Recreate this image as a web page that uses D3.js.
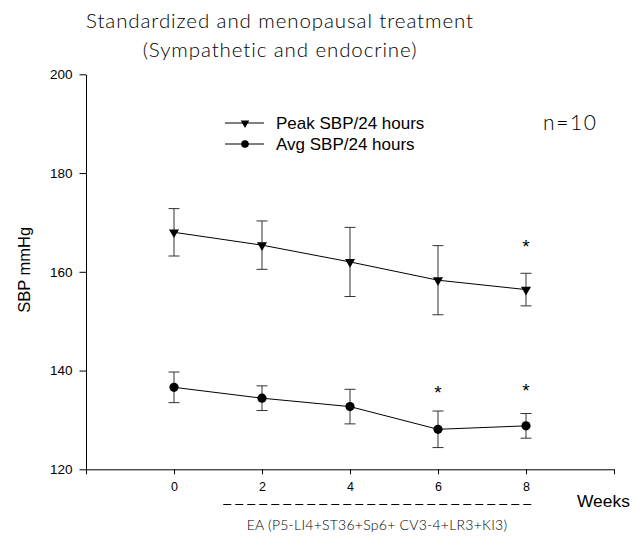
<!DOCTYPE html>
<html>
<head>
<meta charset="utf-8">
<script src="https://cdn.jsdelivr.net/npm/d3@7"></script>
<style>
  html, body { margin: 0; padding: 0; background: #fff; }
  svg { display: block; }
  .gothic { font-family: "Lato", "Open Sans", sans-serif; font-weight: 300; fill: #000; }
  .arial { font-family: "Liberation Sans", Arial, sans-serif; fill: #000; }
</style>
</head>
<body>
<svg id="chart" width="636" height="539"></svg>
<script>
// Weeks of treatment
const weeks = [0, 2, 4, 6, 8];
const xTickLabels = ["0", "2", "4", "6", "8"];
const yTicks = [120, 140, 160, 180, 200];

// Peak SBP over 24 hours (mean and error)
const peakMean = [168.0, 165.4, 162.0, 158.3, 156.4];
const peakErr  = [4.8, 4.9, 7.0, 7.0, 3.3];

// Average SBP over 24 hours (mean and error)
const avgMean = [136.6, 134.4, 132.7, 128.1, 128.8];
const avgErr  = [3.1, 2.5, 3.5, 3.7, 2.5];

// Weeks marked as significant for each series
const peakSig = [8];
const avgSig = [6, 8];

const svg = d3.select("#chart");

const x = d3.scaleLinear().domain([-2, 10]).range([86, 614]);
const y = d3.scaleLinear().domain([120, 200]).range([469.3, 74.3]);

// Title
const title = svg.append("text").attr("class", "gothic")
  .attr("text-anchor", "middle")
  .attr("font-size", 20.5).attr("letter-spacing", 0.9);
title.append("tspan").attr("x", 280).attr("y", 28).text("Standardized and menopausal treatment");
title.append("tspan").attr("x", 280).attr("y", 57).text("(Sympathetic and endocrine)");

// Y axis
const yAxis = d3.axisLeft(y).tickValues(yTicks).tickSize(6.5).tickPadding(7).tickSizeOuter(0);
const gy = svg.append("g").attr("transform", "translate(86,0)").call(yAxis);
gy.selectAll("text").attr("class", "arial").attr("font-size", 13.5);
gy.selectAll("line, path").attr("stroke", "#000");

// X axis
const xAxis = d3.axisBottom(x).tickValues([-2, ...weeks, 10])
  .tickFormat(d => { const i = weeks.indexOf(d); return i >= 0 ? xTickLabels[i] : ""; })
  .tickSize(5).tickPadding(8).tickSizeOuter(0);
const gx = svg.append("g").attr("transform", "translate(0,469.3)").call(xAxis);
gx.selectAll("text").attr("class", "arial").attr("font-size", 12.5);
gx.selectAll("line, path").attr("stroke", "#000");

// Axis titles
svg.append("text").attr("class", "arial")
  .attr("transform", `translate(30,${(y(120) + y(200)) / 2 - 2}) rotate(-90)`)
  .attr("text-anchor", "middle").attr("font-size", 16.5).text("SBP mmHg");
svg.append("text").attr("class", "arial")
  .attr("x", 577).attr("y", 507).attr("font-size", 17.4).text("Weeks");

// Treatment period
svg.append("line")
  .attr("x1", x(1.12)).attr("x2", x(8.17))
  .attr("y1", 504.5).attr("y2", 504.5)
  .attr("stroke", "#000").attr("stroke-dasharray", "8,4");
svg.append("text").attr("class", "gothic")
  .attr("x", 377).attr("y", 530).attr("text-anchor", "middle")
  .attr("font-size", 14).attr("letter-spacing", 0.25).text("EA (P5-LI4+ST36+Sp6+ CV3-4+LR3+KI3)");

const line = d3.line().x(d => x(d[0])).y(d => y(d[1]));
const tri = d3.symbol().type(d3.symbolTriangle).size(44);

function drawSeries(means, errs, marker) {
  const g = svg.append("g");
  const pts = weeks.map((w, i) => [w, means[i], errs[i]]);
  // error bars
  pts.forEach(p => {
    const cx = x(p[0]);
    const top = y(p[1] + p[2]), bot = y(p[1] - p[2]);
    g.append("line").attr("x1", cx).attr("x2", cx).attr("y1", top).attr("y2", bot).attr("stroke", "#333");
    g.append("line").attr("x1", cx - 5.5).attr("x2", cx + 5.5).attr("y1", top).attr("y2", top).attr("stroke", "#333");
    g.append("line").attr("x1", cx - 5.5).attr("x2", cx + 5.5).attr("y1", bot).attr("y2", bot).attr("stroke", "#333");
  });
  g.append("path").datum(pts).attr("d", line).attr("fill", "none").attr("stroke", "#000");
  pts.forEach(p => {
    if (marker === "tri") {
      g.append("path").attr("d", tri())
        .attr("transform", `translate(${x(p[0])},${y(p[1])}) rotate(180)`).attr("fill", "#000");
    } else {
      g.append("circle").attr("cx", x(p[0])).attr("cy", y(p[1])).attr("r", 4.6).attr("fill", "#000");
    }
  });
}
drawSeries(peakMean, peakErr, "tri");
drawSeries(avgMean, avgErr, "circle");

// Significance asterisks
peakSig.forEach(w => {
  const i = weeks.indexOf(w);
  svg.append("text").attr("class", "arial").attr("x", x(w)).attr("y", y(peakMean[i] + peakErr[i]) - 20)
    .attr("text-anchor", "middle").attr("font-size", 19).text("*");
});
avgSig.forEach(w => {
  const i = weeks.indexOf(w);
  const off = w === 6 ? 12 : 17;
  svg.append("text").attr("class", "arial").attr("x", x(w)).attr("y", y(avgMean[i] + avgErr[i]) - off)
    .attr("text-anchor", "middle").attr("font-size", 19).text("*");
});

// Legend
const legend = [
  { label: "Peak SBP/24 hours", marker: "tri", y: 123 },
  { label: "Avg SBP/24 hours", marker: "circle", y: 144 }
];
legend.forEach(l => {
  svg.append("line").attr("x1", 225).attr("x2", 264).attr("y1", l.y).attr("y2", l.y).attr("stroke", "#000");
  if (l.marker === "tri") {
    svg.append("path").attr("d", d3.symbol().type(d3.symbolTriangle).size(32)())
      .attr("transform", `translate(245,${l.y}) rotate(180)`).attr("fill", "#000");
  } else {
    svg.append("circle").attr("cx", 245).attr("cy", l.y).attr("r", 3.8).attr("fill", "#000");
  }
  svg.append("text").attr("class", "arial").attr("x", 276).attr("y", l.y + 6)
    .attr("font-size", 17).text(l.label);
});

svg.append("text").attr("class", "gothic")
  .attr("x", 543).attr("y", 130).attr("font-size", 21).attr("letter-spacing", 1.6).text("n=10");
</script>
</body>
</html>
